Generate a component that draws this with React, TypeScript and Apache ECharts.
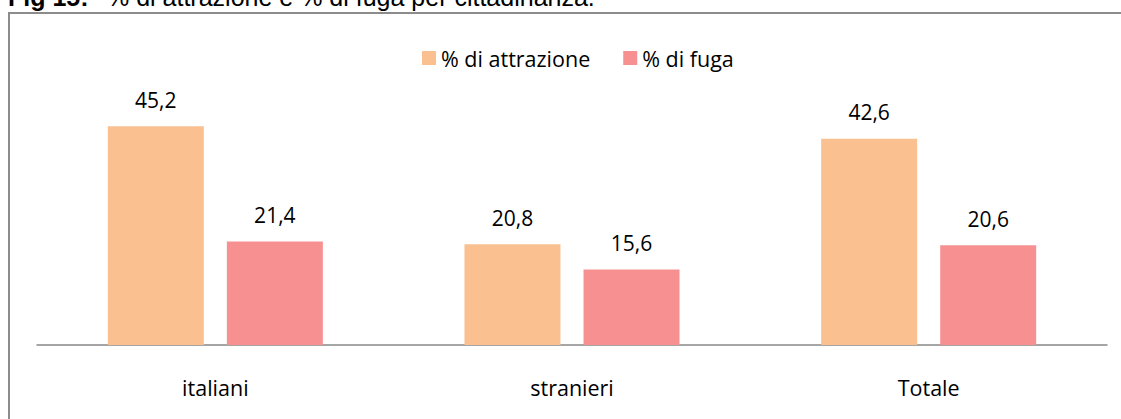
import React, { useEffect, useRef } from "react";
import * as echarts from "echarts";

const categories = ["italiani", "stranieri", "Totale"];
const attrazione = [45.2, 20.8, 42.6];
const fuga = [21.4, 15.6, 20.6];
const seriesNames = ["% di attrazione", "% di fuga"];
const titleBold = "Fig 15:";
const titleText = "% di attrazione e % di fuga per cittadinanza.";

const FONT = "'Open Sans', 'Noto Sans', sans-serif";

export default function App() {
  const ref = useRef<HTMLDivElement>(null);
  useEffect(() => {
    if (!ref.current) return;
    const chart = echarts.init(ref.current, undefined, { renderer: "svg" });
    const fmt = (p: any) => Number(p.value).toFixed(1).replace(".", ",");
    chart.setOption({
      animation: false,
      backgroundColor: "#ffffff",
      textStyle: { fontFamily: FONT },
      graphic: [
        {
          type: "rect",
          shape: { x: 9, y: 13, width: 1200, height: 500 },
          style: { fill: "none", stroke: "#8c8c8c", lineWidth: 2 },
          silent: true,
        },
        {
          type: "text",
          x: 8,
          y: -3,
          style: {
            text: titleBold,
            font: "bold 25px 'Liberation Sans', Arial, sans-serif",
            fill: "#000",
            verticalAlign: "middle",
          },
        },
        {
          type: "text",
          x: 107,
          y: -3,
          style: {
            text: titleText,
            font: "25px 'Liberation Sans', Arial, sans-serif",
            fill: "#000",
            verticalAlign: "middle",
          },
        },
      ],
      legend: {
        left: 417,
        top: 42,
        itemWidth: 14,
        itemHeight: 14,
        itemGap: 33,
        icon: "rect",
        textStyle: { fontFamily: FONT, fontSize: 21.5, color: "#000" },
        data: seriesNames,
      },
      grid: { left: 37, right: 14, top: 103, bottom: 74 },
      xAxis: {
        type: "category",
        data: categories,
        axisLine: { show: true, lineStyle: { color: "#888888", width: 1.5 } },
        axisTick: { show: false },
        axisLabel: { fontFamily: FONT, fontSize: 21.5, color: "#000", margin: 31 },
      },
      yAxis: {
        type: "value",
        min: 0,
        max: 50,
        show: false,
        splitLine: { show: false },
      },
      series: [
        {
          name: seriesNames[0],
          type: "bar",
          data: attrazione,
          barWidth: 96,
          barGap: "24%",
          itemStyle: { color: "#FAC090" },
          label: {
            show: true,
            position: "top",
            distance: 16,
            formatter: fmt,
            fontFamily: FONT,
            fontSize: 21,
            color: "#000",
          },
        },
        {
          name: seriesNames[1],
          type: "bar",
          data: fuga,
          barWidth: 96,
          barGap: "24%",
          itemStyle: { color: "#F79191" },
          label: {
            show: true,
            position: "top",
            distance: 16,
            formatter: fmt,
            fontFamily: FONT,
            fontSize: 21,
            color: "#000",
          },
        },
      ],
    });
    return () => chart.dispose();
  }, []);
  return (
    <div
      ref={ref}
      style={{ position: "fixed", left: 0, top: 0, width: 1121, height: 419 }}
    />
  );
}
